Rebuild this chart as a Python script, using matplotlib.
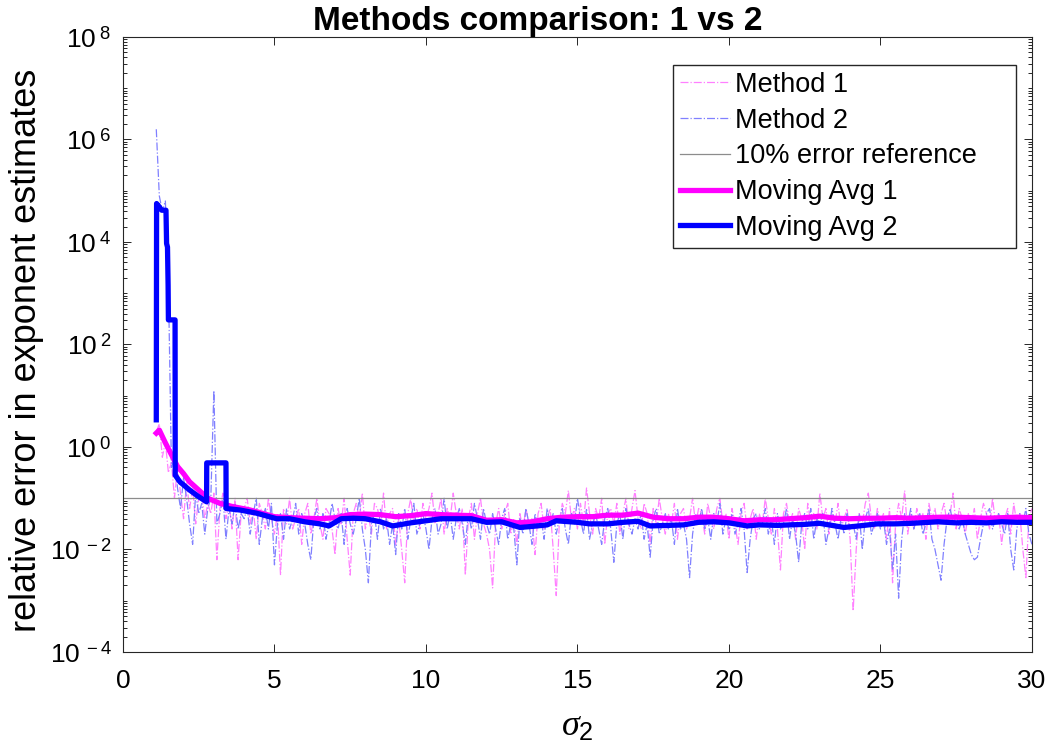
import numpy as np
import matplotlib.pyplot as plt
from matplotlib.ticker import FixedLocator, FixedFormatter, LogLocator, NullFormatter

plt.rcParams["font.family"] = ["Liberation Sans", "DejaVu Sans"]
plt.rcParams["mathtext.fontset"] = "custom"
plt.rcParams["mathtext.rm"] = "Liberation Sans"
plt.rcParams["mathtext.it"] = "Liberation Serif:italic"

# raw estimates, log10 of relative error, sampled every 0.1 in sigma_2 from 1.1
m1_log = [
    0.3, 0.45, -0.2, 0.1, -0.5, -0.3, -1.0, -0.4, -0.9, -1.4,
    -0.7, -1.2, -0.8, -1.5, -1.0, -0.9, -1.4, -1.1, -1.3, -0.9,
    -2.2, -1.2, -0.9, -1.4, -1.1, -1.6, -1.0, -2.2, -1.3, -1.2,
    -1.0, -1.5, -1.2, -1.8, -1.1, -1.3, -1.6, -1.0, -1.4, -1.7,
    -1.3, -2.5, -1.2, -1.5, -1.0, -1.6, -1.4, -1.2, -1.9, -1.3,
    -1.1, -1.7, -1.4, -1.0, -1.5, -1.8, -1.2, -1.3, -1.6, -2.1,
    -1.2, -1.5, -1.0, -1.8, -2.5, -1.3, -1.1, -1.4, -0.9, -1.6,
    -1.3, -1.7, -1.1, -1.2, -1.5, -0.9, -1.6, -1.3, -1.2, -1.9,
    -1.4, -2.0, -2.65, -1.3, -1.0, -1.5, -1.2, -1.6, -1.1, -1.4,
    -1.2, -0.9, -1.5, -1.3, -1.0, -1.7, -1.2, -1.4, -0.9, -1.3,
    -1.6, -1.2, -2.5, -1.4, -1.1, -1.8, -1.3, -1.0, -1.5, -1.7,
    -2.0, -2.75, -1.5, -1.2, -1.6, -1.3, -1.1, -1.7, -1.4, -1.9,
    -1.3, -1.6, -1.2, -1.5, -1.4, -2.1, -1.3, -1.1, -1.6, -1.4,
    -1.2, -2.0, -2.9, -1.5, -1.1, -1.3, -0.85, -1.4, -1.2, -1.6,
    -1.1, -1.5, -0.8, -1.3, -1.7, -1.2, -1.4, -1.0, -1.9, -1.3,
    -1.2, -1.5, -1.1, -1.7, -1.3, -1.0, -1.6, -1.2, -0.85, -1.4,
    -1.6, -1.1, -1.3, -1.9, -1.2, -1.5, -1.0, -1.4, -1.7, -1.3,
    -1.5, -1.1, -1.8, -1.3, -1.2, -1.6, -1.4, -1.0, -1.5, -1.2,
    -1.3, -1.7, -1.1, -1.4, -1.6, -1.2, -1.0, -1.5, -1.3, -1.8,
    -1.2, -1.5, -1.9, -1.3, -1.1, -1.6, -1.4, -1.2, -1.8, -1.3,
    -1.5, -1.0, -1.4, -1.7, -1.2, -1.6, -2.4, -1.3, -1.1, -1.5,
    -1.3, -1.8, -1.2, -1.4, -2.0, -1.1, -1.5, -1.3, -1.6, -0.9,
    -1.4, -1.2, -1.7, -1.3, -1.5, -1.1, -1.6, -1.4, -1.2, -1.8,
    -3.2, -2.0, -1.3, -1.5, -1.1, -0.9, -1.4, -1.6, -1.2, -1.5,
    -1.3, -1.8, -1.2, -2.65, -1.5, -1.1, -1.4, -0.85, -1.7, -1.3,
    -1.6, -1.2, -1.5, -1.3, -1.8, -1.1, -1.4, -1.2, -1.6, -1.3,
    -1.1, -1.5, -1.3, -0.9, -1.6, -1.2, -1.4, -1.7, -1.3, -1.5,
    -1.2, -1.8, -1.4, -1.1, -1.3, -1.6, -1.0, -1.5, -1.3, -1.9,
    -1.4, -1.2, -1.7, -1.1, -1.5, -1.3, -2.0, -2.55, -1.4, -1.2,
]

m2_log = [
    6.2, 4.9, 4.6, 4.8, 3.2, -0.4, -0.2, -0.8, -1.2, -0.6,
    -1.0, -1.5, -1.9, -0.9, -1.3, -1.1, -1.7, -1.2, -1.0, 1.1,
    -1.5, -1.3, -1.0, -1.8, -1.2, -1.5, -1.1, -1.6, -1.3, -1.4,
    -1.2, -1.7, -1.3, -1.0, -1.9, -1.4, -1.2, -1.6, -1.1, -2.3,
    -1.5, -1.3, -1.8, -1.2, -1.6, -1.4, -1.1, -1.7, -1.3, -1.5,
    -1.9, -2.2, -1.4, -1.2, -1.6, -1.3, -1.8, -1.5, -1.1, -1.4,
    -1.6, -1.3, -1.9, -1.2, -1.5, -1.7, -1.4, -1.0, -1.6, -2.0,
    -2.65, -1.5, -1.3, -1.8, -1.2, -1.6, -1.4, -1.9, -1.5, -2.1,
    -1.3, -1.6, -1.2, -1.8, -1.4, -1.1, -1.7, -1.5, -1.3, -1.6,
    -2.0, -1.4, -1.2, -1.7, -1.5, -1.0, -1.6, -1.3, -1.8, -1.4,
    -1.2, -1.5, -1.9, -1.3, -1.6, -1.1, -1.4, -1.8, -1.2, -1.5,
    -1.7, -1.3, -1.6, -1.9, -1.4, -1.2, -1.8, -1.5, -1.6, -2.3,
    -1.4, -1.7, -1.2, -1.5, -1.9, -1.3, -1.6, -1.4, -1.8, -1.2,
    -1.5, -1.3, -1.7, -1.4, -1.2, -1.6, -1.9, -1.3, -1.5, -1.0,
    -1.4, -1.7, -1.2, -1.8, -1.5, -1.3, -1.6, -1.9, -1.4, -1.2,
    -1.6, -2.25, -1.5, -1.3, -1.8, -1.2, -1.5, -1.7, -1.4, -1.6,
    -1.3, -1.8, -1.5, -2.15, -1.4, -1.2, -1.7, -1.5, -1.3, -1.6,
    -1.4, -1.9, -1.2, -1.6, -1.5, -1.8, -2.55, -1.7, -1.3, -1.5,
    -1.2, -1.6, -1.4, -1.8, -1.3, -1.5, -1.1, -1.7, -1.4, -1.6,
    -1.3, -1.7, -1.5, -1.2, -1.6, -2.45, -1.8, -1.4, -1.3, -1.6,
    -1.5, -1.2, -1.7, -1.4, -1.9, -1.3, -1.6, -1.5, -1.2, -1.8,
    -1.4, -1.7, -2.25, -1.5, -1.3, -1.6, -1.2, -1.8, -1.4, -1.5,
    -1.3, -1.9, -1.6, -1.2, -1.5, -1.8, -1.4, -1.7, -1.3, -1.6,
    -1.5, -1.8, -1.3, -2.0, -1.4, -1.2, -1.7, -1.5, -1.3, -1.6,
    -1.4, -1.9, -1.6, -2.4, -1.7, -2.95, -1.8, -1.3, -1.5, -1.2,
    -1.6, -1.4, -1.3, -1.7, -1.5, -1.2, -1.8, -2.0, -2.3, -2.6,
    -1.9, -1.4, -1.2, -1.5, -1.3, -1.6, -1.4, -1.7, -1.9, -2.1,
    -2.2, -2.15, -1.8, -1.5, -1.3, -1.2, -1.6, -1.4, -1.3, -1.5,
    -1.7, -1.3, -2.0, -2.4, -1.6, -1.3, -1.5, -1.2, -1.7, -1.9,
]

# moving averages
ma1_x = [1.1, 1.2, 1.4, 1.6, 1.8, 2.0, 2.2, 2.5, 2.8, 3.2, 3.6, 4.2, 5.0, 5.5,
         6.0, 6.5, 7.0, 7.5, 8.0, 8.5, 9.0, 9.5, 10.0, 10.5, 11.0, 11.5, 12.0,
         12.5, 13.0, 13.5, 14.0, 14.5, 15.0, 15.5, 16.0, 16.5, 17.0, 17.5, 18.0,
         18.5, 19.0, 19.5, 20.0, 20.5, 21.0, 21.5, 22.0, 22.5, 23.0, 23.5, 24.0,
         24.5, 25.0, 25.5, 26.0, 26.5, 27.0, 27.5, 28.0, 28.5, 29.0, 29.5, 30.0]
ma1_log = [0.27, 0.33, 0.08, -0.15, -0.38, -0.52, -0.68, -0.84, -1.0, -1.10,
           -1.16, -1.23, -1.36, -1.38, -1.39, -1.40, -1.38, -1.32, -1.31, -1.32,
           -1.36, -1.34, -1.30, -1.32, -1.33, -1.34, -1.43, -1.42, -1.48, -1.46,
           -1.40, -1.37, -1.36, -1.36, -1.33, -1.33, -1.29, -1.37, -1.40, -1.40,
           -1.37, -1.37, -1.40, -1.44, -1.42, -1.42, -1.40, -1.38, -1.35, -1.39,
           -1.40, -1.39, -1.39, -1.38, -1.39, -1.38, -1.37, -1.37, -1.38, -1.39,
           -1.38, -1.37, -1.38]

ma2_x = [1.10, 1.11, 1.18, 1.28, 1.42, 1.44, 1.47, 1.49, 1.50, 1.72, 1.725,
         1.88, 2.2, 2.5, 2.76, 2.765, 3.40, 3.405, 3.86, 4.4, 5.07, 5.5, 6.0,
         6.5, 6.8, 7.2, 7.6, 8.0, 8.5, 8.9, 9.5, 10.0, 10.5, 11.0, 11.5, 12.0,
         12.5, 13.1, 13.5, 14.0, 14.3, 15.0, 15.4, 16.0, 16.5, 17.0, 17.4, 18.0,
         18.5, 19.0, 19.5, 20.0, 20.6, 21.0, 21.6, 22.0, 22.5, 23.0, 23.4, 23.8,
         24.3, 24.9, 25.5, 26.0, 26.9, 27.5, 28.0, 28.5, 29.0, 29.5, 30.0]
ma2_log = [0.53, 4.75, 4.70, 4.62, 4.62, 3.97, 3.90, 3.16, 2.48, 2.48, -0.55,
           -0.68, -0.84, -0.97, -1.07, -0.31, -0.31, -1.20, -1.23, -1.29, -1.40,
           -1.40, -1.46, -1.50, -1.54, -1.40, -1.39, -1.40, -1.46, -1.54, -1.48,
           -1.44, -1.40, -1.40, -1.40, -1.47, -1.46, -1.57, -1.55, -1.52, -1.44,
           -1.47, -1.50, -1.50, -1.47, -1.45, -1.54, -1.53, -1.52, -1.47, -1.46,
           -1.48, -1.54, -1.52, -1.53, -1.52, -1.51, -1.49, -1.53, -1.57, -1.54,
           -1.50, -1.50, -1.49, -1.46, -1.48, -1.47, -1.48, -1.46, -1.47, -1.47]

ref_level = 0.1
y_tick_exp = [-4, -2, 0, 2, 4, 6, 8]
x_ticks = [0, 5, 10, 15, 20, 25, 30]

sigma = np.round(1.1 + 0.1 * np.arange(len(m1_log)), 2)

fig = plt.figure(figsize=(10.5, 7.52), dpi=100)
ax = fig.add_axes([0.1171, 0.1330, 0.8657, 0.8178])

ax.plot(sigma, 10.0 ** np.array(m1_log), "-.", color="#ff80ff", linewidth=0.9, label="Method 1")
ax.plot(sigma, 10.0 ** np.array(m2_log), "-.", color="#8080ff", linewidth=0.9, label="Method 2")
ax.plot([0, 30], [ref_level, ref_level], "-", color="#8c8c8c", linewidth=0.9, label="10% error reference")
ax.plot(ma1_x, 10.0 ** np.array(ma1_log), "-", color="#ff00ff", linewidth=3.8, label="Moving Avg 1")
ax.plot(ma2_x, 10.0 ** np.array(ma2_log), "-", color="#0000ff", linewidth=3.8, label="Moving Avg 2")

ax.set_yscale("log")
ax.set_xlim(0, 30)
ax.set_ylim(1e-4, 1e8)

ax.xaxis.set_major_locator(FixedLocator(x_ticks))
ax.set_xticklabels([str(t) for t in x_ticks])
ax.yaxis.set_major_locator(FixedLocator([10.0 ** e for e in y_tick_exp]))
ax.yaxis.set_major_formatter(FixedFormatter([r"10$^{\ %d}$" % e for e in y_tick_exp]))
ax.yaxis.set_minor_locator(LogLocator(base=10, subs=np.arange(1, 10), numticks=100))
ax.yaxis.set_minor_formatter(NullFormatter())

ax.tick_params(axis="both", which="both", direction="in", top=True, right=True,
               labelsize=19, color="#262626", width=0.7)
ax.tick_params(axis="x", which="major", length=6, pad=12)
ax.tick_params(axis="y", which="major", length=6, pad=8)
ax.tick_params(axis="y", which="minor", length=3)
for s in ax.spines.values():
    s.set_color("#262626")
    s.set_linewidth(0.8)

ax.set_title("Methods comparison: 1 vs 2", fontsize=24, fontweight="bold", pad=5, x=0.456)
ax.set_xlabel(r"$\sigma_2$", fontsize=26, labelpad=12)
ax.set_ylabel("relative error in exponent estimates", fontsize=26, labelpad=4, y=0.49)

ax.legend(loc="upper left", bbox_to_anchor=(673 / 1050, (752 - 243) / 752, 343 / 1050, 178 / 752),
          bbox_transform=fig.transFigure, mode="expand", fontsize=19.5, frameon=True,
          fancybox=False, edgecolor="#262626", framealpha=1, borderaxespad=0,
          handlelength=1.85, labelspacing=0.36, handletextpad=0.2, borderpad=0.25)

fig.savefig("out.png", dpi=100)
